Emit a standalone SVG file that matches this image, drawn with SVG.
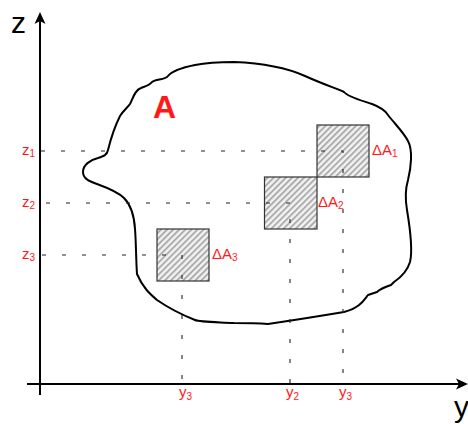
<svg xmlns="http://www.w3.org/2000/svg" width="468" height="424" viewBox="0 0 468 424">
<style>
.lbl{font-family:"Liberation Sans",Arial,sans-serif;font-size:15px;fill:#ff1a1a}
.sub{font-size:10px}
.axisl{font-family:"Liberation Sans",Arial,sans-serif;font-size:30px;fill:#000}
.axis{stroke:#000;stroke-width:2;fill:none}
.dash{stroke:#222;stroke-width:1.1;fill:none;stroke-dasharray:4 16}
.cell{fill:url(#hatch);stroke:#333;stroke-width:1.2}
.blob{fill:none;stroke:#000;stroke-width:2;stroke-linejoin:round}
</style>
<defs>
<pattern id="hatch" patternUnits="userSpaceOnUse" width="4.3" height="4.3" patternTransform="rotate(45)">
<rect width="4.3" height="4.3" fill="#f2f2f2"/>
<line x1="1" y1="0" x2="1" y2="4.3" stroke="#a8a8a8" stroke-width="1.8"/>
</pattern>
</defs>
<rect width="468" height="424" fill="#fff"/>
<g id="axes">
<line class="axis" x1="40" y1="395" x2="40" y2="20"/>
<path d="M40 12 L45.5 24 L40 21 L34.5 24 Z" fill="#000"/>
<line class="axis" x1="27" y1="384" x2="460" y2="384"/>
<path d="M468 384 L456 378.5 L459 384 L456 389.5 Z" fill="#000"/>
<text class="axisl" x="11" y="33">z</text>
<text class="axisl" x="454" y="417">y</text>
</g>
<g id="region-A">
<path class="blob" d="M234 62 C258 63 285 67 305 76 C325 85 338 89 344 92 C348 97 360 100 372 104 C380 107 385 110 388 115 C395 124 404 133 408 141 C413 150 411 168 408 180 C405 190 405 198 407 210 C410 228 413 250 410 262 C407 272 400 278 394 282 L391 285 C385 287 380 289 377 292 L368 295 C364 300 360 308 344 312 C320 316 295 320 268 324 C255 323 245 323 234 323 C215 322 200 322 195 320 C185 316 170 309 157 300 C150 294 143 288 137 274 C136 260 136 240 135 229 C134 212 130 204 124 198 C118 192 108 188 97 184 C88 181 83 178 83 172 C83 165 90 160 98 158 C104 156 107 155 108 150 C111 138 114 128 120 116 C124 110 127 108 130 104 C133 98 135 90 141 88 C146 86 150 85 152 82 C156 79 165 80 168 76 C172 71 180 68 195 65 C210 62 225 62 234 62 Z"/>
<text x="153" y="118" font-family="'Liberation Sans',Arial,sans-serif" font-size="32" font-weight="bold" fill="#ff1a1a">A</text>
</g>
<g id="dA1">
<rect class="cell" x="317" y="125" width="52" height="52"/>
<text class="lbl" x="372" y="155">ΔA<tspan class="sub" dy="2">1</tspan></text>
</g>
<g id="dA2">
<rect class="cell" x="264.5" y="177" width="52.5" height="52"/>
<text class="lbl" x="318" y="207">ΔA<tspan class="sub" dy="2">2</tspan></text>
</g>
<g id="dA3">
<rect class="cell" x="157" y="229" width="52" height="52"/>
<text class="lbl" x="212" y="259">ΔA<tspan class="sub" dy="2">3</tspan></text>
</g>
<g id="connectors">
<polyline class="dash" points="41,151 343,151 343,384"/>
<polyline class="dash" points="46,203 290,203 290,384"/>
<polyline class="dash" points="42,255 182,255 182,384"/>
</g>
<g id="z-labels">
<text class="lbl" x="22" y="155">z<tspan class="sub" dy="2">1</tspan></text>
<text class="lbl" x="22" y="207">z<tspan class="sub" dy="2">2</tspan></text>
<text class="lbl" x="22" y="259">z<tspan class="sub" dy="2">3</tspan></text>
</g>
<g id="y-labels">
<text class="lbl" x="179" y="397">y<tspan class="sub" dy="3">3</tspan></text>
<text class="lbl" x="286" y="397">y<tspan class="sub" dy="3">2</tspan></text>
<text class="lbl" x="339" y="397">y<tspan class="sub" dy="3">3</tspan></text>
</g>
</svg>
